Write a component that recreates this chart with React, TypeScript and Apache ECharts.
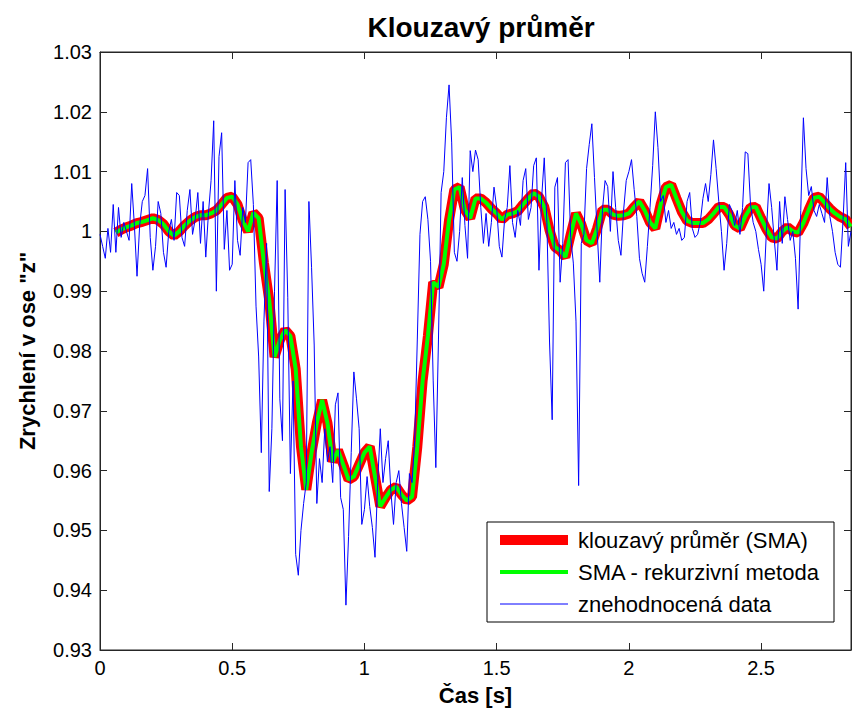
import React, { useEffect, useRef } from "react";
import * as echarts from "echarts";

// ---- data ----
const TITLE = "Klouzavý průměr";
const X_NAME = "Čas [s]";
const Y_NAME = 'Zrychlení v ose "z"';
const LEGEND_NAMES = ["klouzavý průměr (SMA)", "SMA - rekurzivní metoda", "znehodnocená data"];

const X_MIN = 0;
const X_MAX = 2.84;
const X_INTERVAL = 0.5;
const Y_MIN = 0.93;
const Y_MAX = 1.03;
const Y_INTERVAL = 0.01;

// raw (corrupted) samples, sample period 0.01 s starting at t = 0
const RAW_T0 = 0;
const RAW_DT = 0.01;
const rawValues = [
  0.9995, 0.9975, 0.9955, 1.0005, 0.9965, 1.0045, 0.9965, 1.004, 0.999, 1.0015,
  1.0, 0.9985, 1.008, 1.001, 0.9925, 1.001, 1.005, 1.006, 1.0105, 0.999,
  0.9935, 0.9975, 1.005, 1.003, 0.9965, 0.994, 1.0, 1.002, 0.9985, 1.0065,
  1.006, 0.999, 0.9975, 1.0035, 1.007, 0.9995, 1.002, 1.0065, 0.998, 1.005,
  0.9957, 1.003, 1.0085, 1.0185, 0.99, 1.0125, 1.0165, 0.997, 1.0035, 0.9935,
  0.9945, 1.0085, 0.9985, 0.996, 1.004, 1.0015, 1.0115, 1.012, 1.0045, 0.9875,
  0.979, 0.963, 0.985, 0.998, 0.9565, 0.967, 0.99, 1.0085, 0.972, 0.965,
  1.007, 0.989, 0.9595, 0.975, 0.946, 0.9425, 0.95, 0.9545, 0.958, 1.005,
  0.994, 0.981, 0.9545, 0.962, 0.958, 0.967, 0.9615, 0.964, 0.958, 0.971,
  0.973, 0.9555, 0.9535, 0.9375, 0.949, 0.963, 0.9765, 0.972, 0.967, 0.951,
  0.9535, 0.959, 0.954, 0.9505, 0.9455, 0.958, 0.967, 0.958, 0.962, 0.965,
  0.9565, 0.951, 0.958, 0.96, 0.9545, 0.9505, 0.9465, 0.9595, 0.958, 0.965,
  0.982, 0.9995, 1.005, 1.0058, 1.002, 0.995, 0.975, 0.9605, 0.982, 1.0065,
  1.01, 1.019, 1.0245, 1.0148, 0.9965, 0.995, 1.0, 1.009, 1.001, 0.9955,
  1.0135, 1.01, 1.0136, 1.012, 1.004, 0.998, 1.003, 0.9975, 1.0015, 1.0074,
  1.004, 0.9975, 0.9957, 1.002, 1.004, 1.011, 1.0015, 0.999, 1.0035, 1.001,
  1.0085, 1.0105, 1.002, 1.004, 1.011, 1.0123, 0.9935, 1.0055, 1.0123, 1.0015,
  0.9815, 0.9685, 1.0074, 1.009, 0.9915, 0.998, 1.0115, 1.012, 0.999, 0.9947,
  0.985, 0.9575, 0.998, 0.9995, 1.0105, 1.0145, 1.018, 1.009, 1.0, 0.9915,
  1.0035, 1.0085, 1.0075, 1.0, 1.01, 1.004, 0.9985, 0.996, 1.0035, 1.0085,
  1.01, 1.012, 1.007, 1.0025, 0.9955, 0.993, 0.9915, 0.9975, 1.004, 1.011,
  1.02, 1.014, 1.005, 1.006, 1.0015, 1.0035, 1.0005, 1.0015, 0.9995, 1.0005,
  0.9985, 0.999, 1.005, 1.0065, 1.0005, 0.999, 0.9995, 1.0015, 1.0055, 1.008,
  1.005, 1.0095, 1.0153, 1.0105, 1.005, 1.0, 0.9935, 0.998, 1.0045, 1.0035,
  1.001, 1.0035, 0.9995, 1.004, 1.0133, 1.013, 1.0045, 1.0015, 1.0, 0.997,
  0.9945, 0.99, 1.0, 1.008, 1.004, 0.9985, 0.9935, 1.005, 0.998, 1.0058,
  1.002, 0.9985, 1.0, 0.9955, 0.987, 1.0035, 1.019, 1.0105, 1.006, 1.0075,
  1.0035, 1.0025, 1.0045, 1.003, 1.0015, 1.009, 1.0025, 1.0, 0.9965, 0.9945,
  0.994, 1.002, 1.0115, 0.9975, 1.0,
];

const SMA_T0 = 0.06;
const SMA_DT = 0.02;
const smaValues = [
  0.9998, 1.0003, 1.0007, 1.001, 1.0014, 1.0016, 1.0019, 1.0022, 1.0019, 1.0012,
  1.0, 0.9993, 1.0, 1.001, 1.0018, 1.0024, 1.0027, 1.0027, 1.003, 1.0035,
  1.0045, 1.0056, 1.0058, 1.0045, 1.0018, 1.0, 1.0031, 1.0022, 0.9947, 0.9885,
  0.979, 0.9818, 0.9835, 0.9825, 0.977, 0.964, 0.9568, 0.963, 0.968, 0.9718,
  0.968, 0.9615, 0.9634, 0.961, 0.9585, 0.959, 0.961, 0.963, 0.964, 0.959,
  0.954, 0.9555, 0.9568, 0.9573, 0.956, 0.955, 0.9556, 0.964, 0.975, 0.9825,
  0.9915, 0.9907, 0.9945, 1.0019, 1.007, 1.0074, 1.0036, 1.0022, 1.0055, 1.0055,
  1.0048, 1.0038, 1.003, 1.002, 1.0028, 1.003, 1.0034, 1.0045, 1.0055, 1.0064,
  1.0058, 1.0041, 1.0002, 0.9974, 0.9968, 0.9957, 0.9995, 1.003, 1.0012, 0.9985,
  0.998, 1.0005, 1.0036, 1.0036, 1.0028, 1.0026, 1.0027, 1.003, 1.0041, 1.005,
  1.0035, 1.0015, 1.0005, 1.0045, 1.0074, 1.0078, 1.0055, 1.0033, 1.0018, 1.0014,
  1.0014, 1.0014, 1.002, 1.003, 1.0041, 1.0041, 1.0028, 1.001, 1.0005, 1.0025,
  1.004, 1.0041, 1.0022, 1.0004, 0.999, 0.9988, 1.0, 1.0007, 1.0, 0.9998,
  1.0014, 1.0036, 1.0056, 1.0058, 1.0048, 1.0038, 1.003, 1.0024, 1.002, 1.0008,
];

const rawSeries = rawValues.map((v, i) => [+(RAW_T0 + i * RAW_DT).toFixed(2), v]);
const smaSeries = smaValues.map((v, i) => [+(SMA_T0 + i * SMA_DT).toFixed(2), v]);

const FONT = "'Liberation Sans', Arial, Helvetica, sans-serif";
const AXIS_COLOR = "#262626";

const GRID = { left: 100, top: 52, right: 1, bottom: 63 };
const LEGEND_BOX = { x: 487, y: 522, w: 347, h: 100 };

export default function App() {
  const ref = useRef<HTMLDivElement | null>(null);

  useEffect(() => {
    if (!ref.current) return;
    const chart = echarts.init(ref.current, undefined, { renderer: "svg" });

    const tickCommon = { inside: true, length: 7, lineStyle: { color: AXIS_COLOR, width: 1 } };
    const lineCommon = { show: true, onZero: false, lineStyle: { color: AXIS_COLOR, width: 1 } };
    const fmtY = (v: number) => String(Number(v.toFixed(2)));
    const fmtX = (v: number) => String(Number(v.toFixed(2)));

    const legendRows = [
      { name: LEGEND_NAMES[0], color: "#ff0000", width: 10 },
      { name: LEGEND_NAMES[1], color: "#00ff00", width: 4 },
      { name: LEGEND_NAMES[2], color: "#0000ff", width: 1 },
    ];
    const rowY = [540, 572, 604];
    const legendGraphics: any[] = [
      {
        type: "rect",
        shape: { x: LEGEND_BOX.x, y: LEGEND_BOX.y, width: LEGEND_BOX.w, height: LEGEND_BOX.h },
        style: { fill: "#ffffff", stroke: "#000000", lineWidth: 1 },
        z: 100,
      },
    ];
    legendRows.forEach((r, i) => {
      legendGraphics.push({
        type: "line",
        shape: { x1: 500, y1: rowY[i], x2: 568, y2: rowY[i] },
        style: { stroke: r.color, lineWidth: r.width },
        z: 101,
      });
      legendGraphics.push({
        type: "text",
        x: 578,
        y: rowY[i],
        style: {
          text: r.name,
          fill: "#000000",
          font: `22px ${FONT}`,
          verticalAlign: "middle",
          align: "left",
        },
        z: 101,
      });
    });

    chart.setOption({
      animation: false,
      backgroundColor: "#ffffff",
      title: {
        text: TITLE,
        left: 476,
        top: 8,
        textAlign: "center",
        textStyle: { fontFamily: FONT, fontWeight: "bold", fontSize: 28, color: "#000" },
      },
      grid: { ...GRID, containLabel: false, show: true, borderColor: AXIS_COLOR, borderWidth: 1 },
      xAxis: [
        {
          type: "value",
          min: X_MIN,
          max: X_MAX,
          interval: X_INTERVAL,
          position: "bottom",
          name: X_NAME,
          nameLocation: "middle",
          nameGap: 34,
          nameTextStyle: { fontFamily: FONT, fontWeight: "bold", fontSize: 22, color: "#000" },
          axisLine: lineCommon,
          axisTick: tickCommon,
          splitLine: { show: false },
          axisLabel: {
            fontFamily: FONT,
            fontSize: 20,
            color: "#000",
            margin: 8,
            showMaxLabel: false,
            formatter: fmtX,
          },
        },
        {
          type: "value",
          min: X_MIN,
          max: X_MAX,
          interval: X_INTERVAL,
          position: "top",
          axisLine: lineCommon,
          axisTick: tickCommon,
          axisLabel: { show: false },
          splitLine: { show: false },
        },
      ],
      yAxis: [
        {
          type: "value",
          min: Y_MIN,
          max: Y_MAX,
          interval: Y_INTERVAL,
          position: "left",
          name: Y_NAME,
          nameLocation: "middle",
          nameGap: 62,
          nameRotate: 90,
          nameTextStyle: { fontFamily: FONT, fontWeight: "bold", fontSize: 22, color: "#000" },
          axisLine: lineCommon,
          axisTick: tickCommon,
          splitLine: { show: false },
          axisLabel: { fontFamily: FONT, fontSize: 20, color: "#000", margin: 8, formatter: fmtY },
        },
        {
          type: "value",
          min: Y_MIN,
          max: Y_MAX,
          interval: Y_INTERVAL,
          position: "right",
          axisLine: lineCommon,
          axisTick: tickCommon,
          axisLabel: { show: false },
          splitLine: { show: false },
        },
      ],
      series: [
        {
          name: LEGEND_NAMES[0],
          type: "line",
          data: smaSeries,
          xAxisIndex: 0,
          yAxisIndex: 0,
          showSymbol: false,
          symbol: "none",
          lineStyle: { color: "#ff0000", width: 10 },
          itemStyle: { color: "#ff0000" },
          z: 2,
        },
        {
          name: LEGEND_NAMES[1],
          type: "line",
          data: smaSeries,
          xAxisIndex: 0,
          yAxisIndex: 0,
          showSymbol: false,
          symbol: "none",
          lineStyle: { color: "#00ff00", width: 4 },
          itemStyle: { color: "#00ff00" },
          z: 3,
        },
        {
          name: LEGEND_NAMES[2],
          type: "line",
          data: rawSeries,
          xAxisIndex: 0,
          yAxisIndex: 0,
          showSymbol: false,
          symbol: "none",
          lineStyle: { color: "#0000ff", width: 1 },
          itemStyle: { color: "#0000ff" },
          z: 4,
        },
      ],
      graphic: legendGraphics,
    });

    return () => chart.dispose();
  }, []);

  return (
    <div
      ref={ref}
      style={{ position: "absolute", left: 0, top: 0, width: 852, height: 713, background: "#fff" }}
    />
  );
}
